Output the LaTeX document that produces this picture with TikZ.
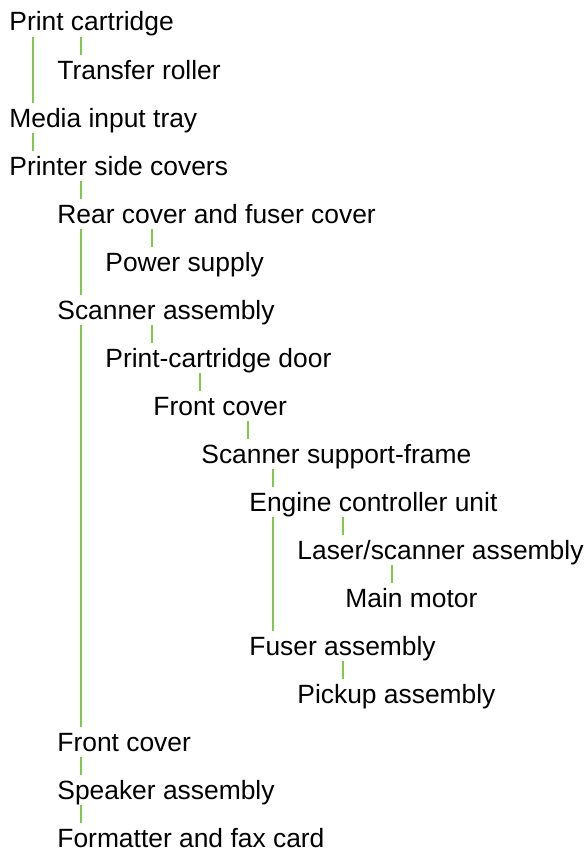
\documentclass[tikz,border=0pt]{standalone}
\usepackage{fontspec}
\setmainfont{Liberation Sans}
\usetikzlibrary{calc}
\definecolor{LeafGreen}{RGB}{128, 200, 78}

\newcommand{\branch}[3]{%
  \path ($(#2.base west)+(#3,-24)$) coordinate (e) ($(#1.base)+(0,6)$) coordinate (s);
  \draw [link] (s -| e) -- (e);}

\begin{document}
\begin{tikzpicture}[
        x=0.5pt, y=-0.5pt,
        part/.style={anchor=base west, inner sep=0pt, font=\fontsize{13.2pt}{15pt}\selectfont},
        link/.style={draw=LeafGreen, line width=0.6pt}
      ]
        \useasboundingbox (0,0) rectangle (586,851);
        % Nodes
        \node [part] (cart) at (9,31) {Print cartridge};
        \node [part] (roller) at (57,79) {Transfer roller};
        \node [part] (tray) at (9,127) {Media input tray};
        \node [part] (side) at (9,175) {Printer side covers};
        \node [part] (rear) at (57,223) {Rear cover and fuser cover};
        \node [part] (power) at (105,271) {Power supply};
        \node [part] (scan) at (57,319) {Scanner assembly};
        \node [part] (door) at (105,367) {Print-cartridge door};
        \node [part] (front) at (153,415) {Front cover};
        \node [part] (frame) at (201,463) {Scanner support-frame};
        \node [part] (ecu) at (249,511) {Engine controller unit};
        \node [part] (laser) at (297,559) {Laser/scanner assembly};
        \node [part] (motor) at (345,607) {Main motor};
        \node [part] (fuser) at (249,655) {Fuser assembly};
        \node [part] (pickup) at (297,703) {Pickup assembly};
        \node [part] (frontb) at (57,751) {Front cover};
        \node [part] (speaker) at (57,799) {Speaker assembly};
        \node [part] (fmt) at (57,847) {Formatter and fax card};

        % Connections
        \branch{cart}{roller}{24}
        \branch{cart}{tray}{24}
        \branch{tray}{side}{24}
        \branch{side}{rear}{24}
        \branch{rear}{power}{47}
        \branch{rear}{scan}{24}
        \branch{scan}{door}{47}
        \branch{scan}{frontb}{24}
        \branch{door}{front}{47}
        \branch{front}{frame}{47}
        \branch{frame}{ecu}{24}
        \branch{ecu}{laser}{46}
        \branch{ecu}{fuser}{24}
        \branch{laser}{motor}{47}
        \branch{fuser}{pickup}{46}
        \branch{frontb}{speaker}{24}
        \branch{speaker}{fmt}{24}
      \end{tikzpicture}
\end{document}
